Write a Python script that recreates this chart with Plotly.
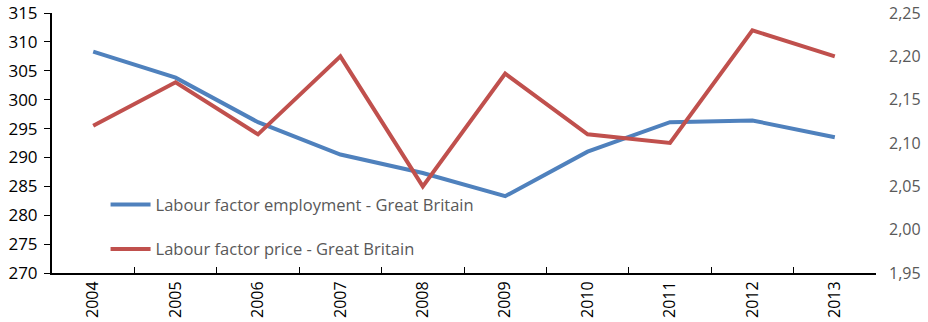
import plotly.graph_objects as go

years = ["2004", "2005", "2006", "2007", "2008", "2009", "2010", "2011", "2012", "2013"]
employment = [308.3, 303.8, 296.1, 290.5, 287.3, 283.3, 291.0, 296.1, 296.4, 293.5]
price = [2.12, 2.17, 2.11, 2.20, 2.05, 2.18, 2.11, 2.10, 2.23, 2.20]

left_ticks = [270, 275, 280, 285, 290, 295, 300, 305, 310, 315]
right_ticks = [1.95, 2.00, 2.05, 2.10, 2.15, 2.20, 2.25]

fig = go.Figure()
fig.add_trace(go.Scatter(x=years, y=employment, mode="lines", name="Labour factor employment - Great Britain",
                         line=dict(color="#4F81BD", width=4), legendgroup="a"))
fig.add_trace(go.Scatter(x=years, y=price, mode="lines", name="Labour factor price - Great Britain",
                         line=dict(color="#C0504D", width=4), yaxis="y2", legendgroup="b"))

fig.update_layout(
    width=928, height=322,
    margin=dict(l=52, r=52, t=13, b=49, autoexpand=False),
    paper_bgcolor="white", plot_bgcolor="white",
    separators=",.",
    font=dict(family="Open Sans, Liberation Sans, sans-serif", size=16, color="#222"),
    xaxis=dict(type="category", showgrid=False, showline=True, linecolor="black", linewidth=2,
               ticks="inside", ticklen=6, tickcolor="black", tickson="boundaries", automargin=False,
               tickangle=-90, tickfont=dict(size=16, color="black"), range=[-0.5, 9.5]),
    yaxis=dict(range=[270, 315], tickvals=left_ticks, showgrid=False, zeroline=False, automargin=False,
               showline=True, linecolor="black", linewidth=2, ticks="outside", ticklen=6,
               tickcolor="black", tickfont=dict(size=17, color="black"), ticklabelstandoff=3,
               ticklabeloverflow="allow"),
    yaxis2=dict(range=[1.95, 2.25], tickvals=right_ticks, tickformat=".2f", overlaying="y", side="right",
                showgrid=False, zeroline=False, showline=False, ticks="", automargin=False,
                tickfont=dict(size=16, color="#595959"), ticklabelstandoff=12,
                ticklabeloverflow="allow"),
    legend=dict(x=0.065, y=0.33, xanchor="left", yanchor="top", bgcolor="rgba(0,0,0,0)",
                font=dict(size=16.5, color="#595959"), tracegroupgap=20, itemwidth=40),
    showlegend=True,
)

fig.write_html("out.html", config={"displayModeBar": False},
               post_script="document.body.style.margin='0';")
